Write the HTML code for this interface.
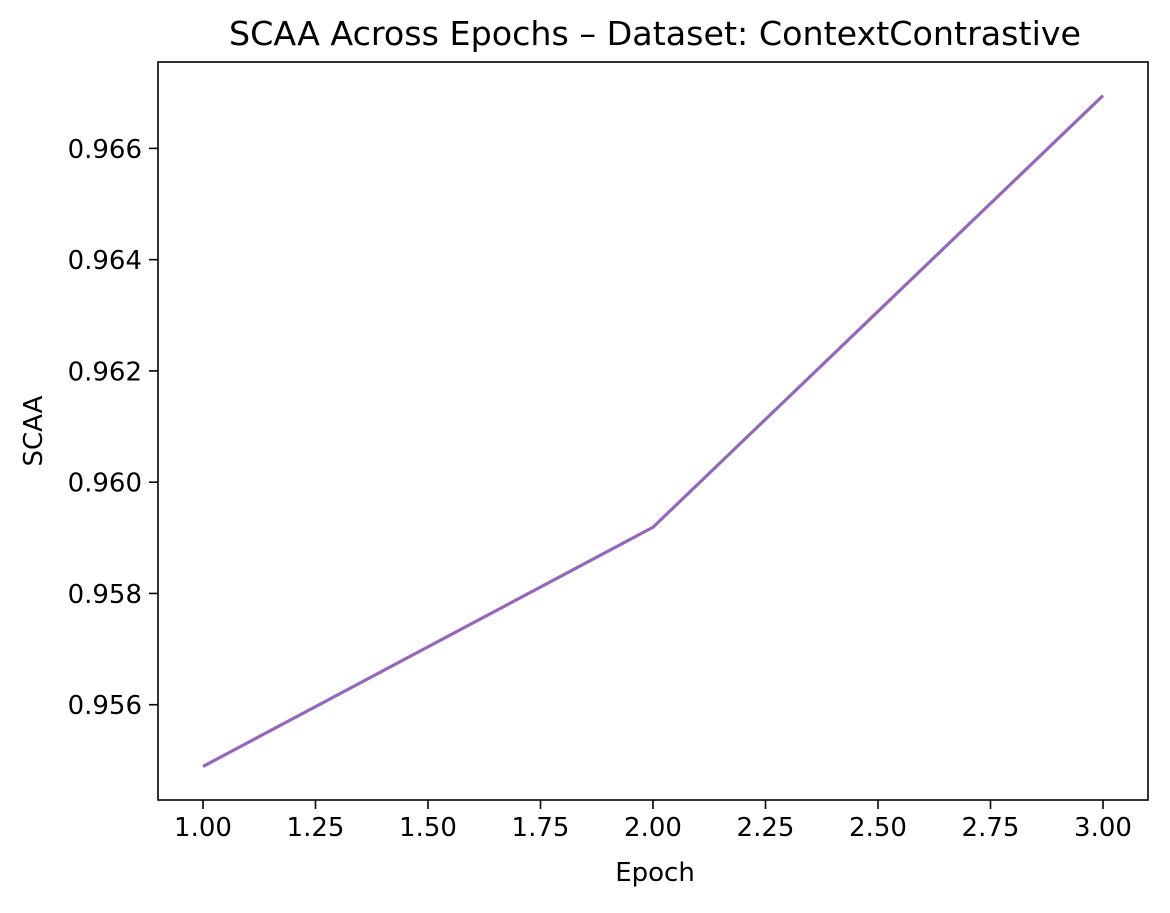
<!DOCTYPE html>
<html><head><meta charset="utf-8"><style>
body{margin:0;background:#fff}
text{font-family:"DejaVu Sans","Liberation Sans",sans-serif;fill:#000}
</style></head><body>
<svg id="chart" width="1170" height="908" xmlns="http://www.w3.org/2000/svg">
<rect width="1170" height="908" fill="#fff"/>
<text x="655" y="45" font-size="33.3" text-anchor="middle">SCAA Across Epochs – Dataset: ContextContrastive</text>
<g id="xticks"></g><g id="yticks"></g>
<polyline id="series" fill="none" stroke="#9467bd" stroke-width="3.2" stroke-linejoin="round"/>
<rect x="158" y="62" width="990" height="738" fill="none" stroke="#000" stroke-width="1.6"/>
<text x="655" y="881" font-size="26" text-anchor="middle">Epoch</text>
<text transform="translate(42,431) rotate(-90)" font-size="26" text-anchor="middle">SCAA</text>
</svg>
<script>
const epochs = [1, 2, 3];
const scaa = [0.95489, 0.95919, 0.96695];
const xTickVals = [1.0, 1.25, 1.5, 1.75, 2.0, 2.25, 2.5, 2.75, 3.0];
const xTickLabels = ["1.00","1.25","1.50","1.75","2.00","2.25","2.50","2.75","3.00"];
const yTickVals = [0.956, 0.958, 0.960, 0.962, 0.964, 0.966];
const yTickLabels = ["0.956","0.958","0.960","0.962","0.964","0.966"];

const L=158,R=1148,T=62,B=800;
const xmin=0.9, xmax=3.1;
const ymin0=Math.min(...scaa), ymax0=Math.max(...scaa), pad=(ymax0-ymin0)*0.05;
const ymin=ymin0-pad, ymax=ymax0+pad;
const xs=v=>L+(v-xmin)/(xmax-xmin)*(R-L);
const ys=v=>B-(v-ymin)/(ymax-ymin)*(B-T);
const NS="http://www.w3.org/2000/svg";
const xg=document.getElementById('xticks'), yg=document.getElementById('yticks');
xTickVals.forEach((v,i)=>{
  const x=xs(v);
  const ln=document.createElementNS(NS,'line');
  ln.setAttribute('x1',x);ln.setAttribute('x2',x);ln.setAttribute('y1',B);ln.setAttribute('y2',B+9);
  ln.setAttribute('stroke','#000');ln.setAttribute('stroke-width','1.6');
  
  
  xg.appendChild(ln);
  const t=document.createElementNS(NS,'text');
  t.setAttribute('x',x);t.setAttribute('y',B+36);t.setAttribute('font-size','26');t.setAttribute('text-anchor','middle');
  t.textContent=xTickLabels[i];
  
  
  xg.appendChild(t);
});
yTickVals.forEach((v,i)=>{
  const y=ys(v);
  const ln=document.createElementNS(NS,'line');
  ln.setAttribute('x1',L-9);ln.setAttribute('x2',L);ln.setAttribute('y1',y);ln.setAttribute('y2',y);
  ln.setAttribute('stroke','#000');ln.setAttribute('stroke-width','1.6');
  
  
  yg.appendChild(ln);
  const t=document.createElementNS(NS,'text');
  t.setAttribute('x',L-16);t.setAttribute('y',y+9.5);t.setAttribute('font-size','26');t.setAttribute('text-anchor','end');
  t.textContent=yTickLabels[i];
  
  
  yg.appendChild(t);
});
document.getElementById('series').setAttribute('points', epochs.map((e,i)=>xs(e)+','+ys(scaa[i])).join(' '));
</script>
</body></html>
